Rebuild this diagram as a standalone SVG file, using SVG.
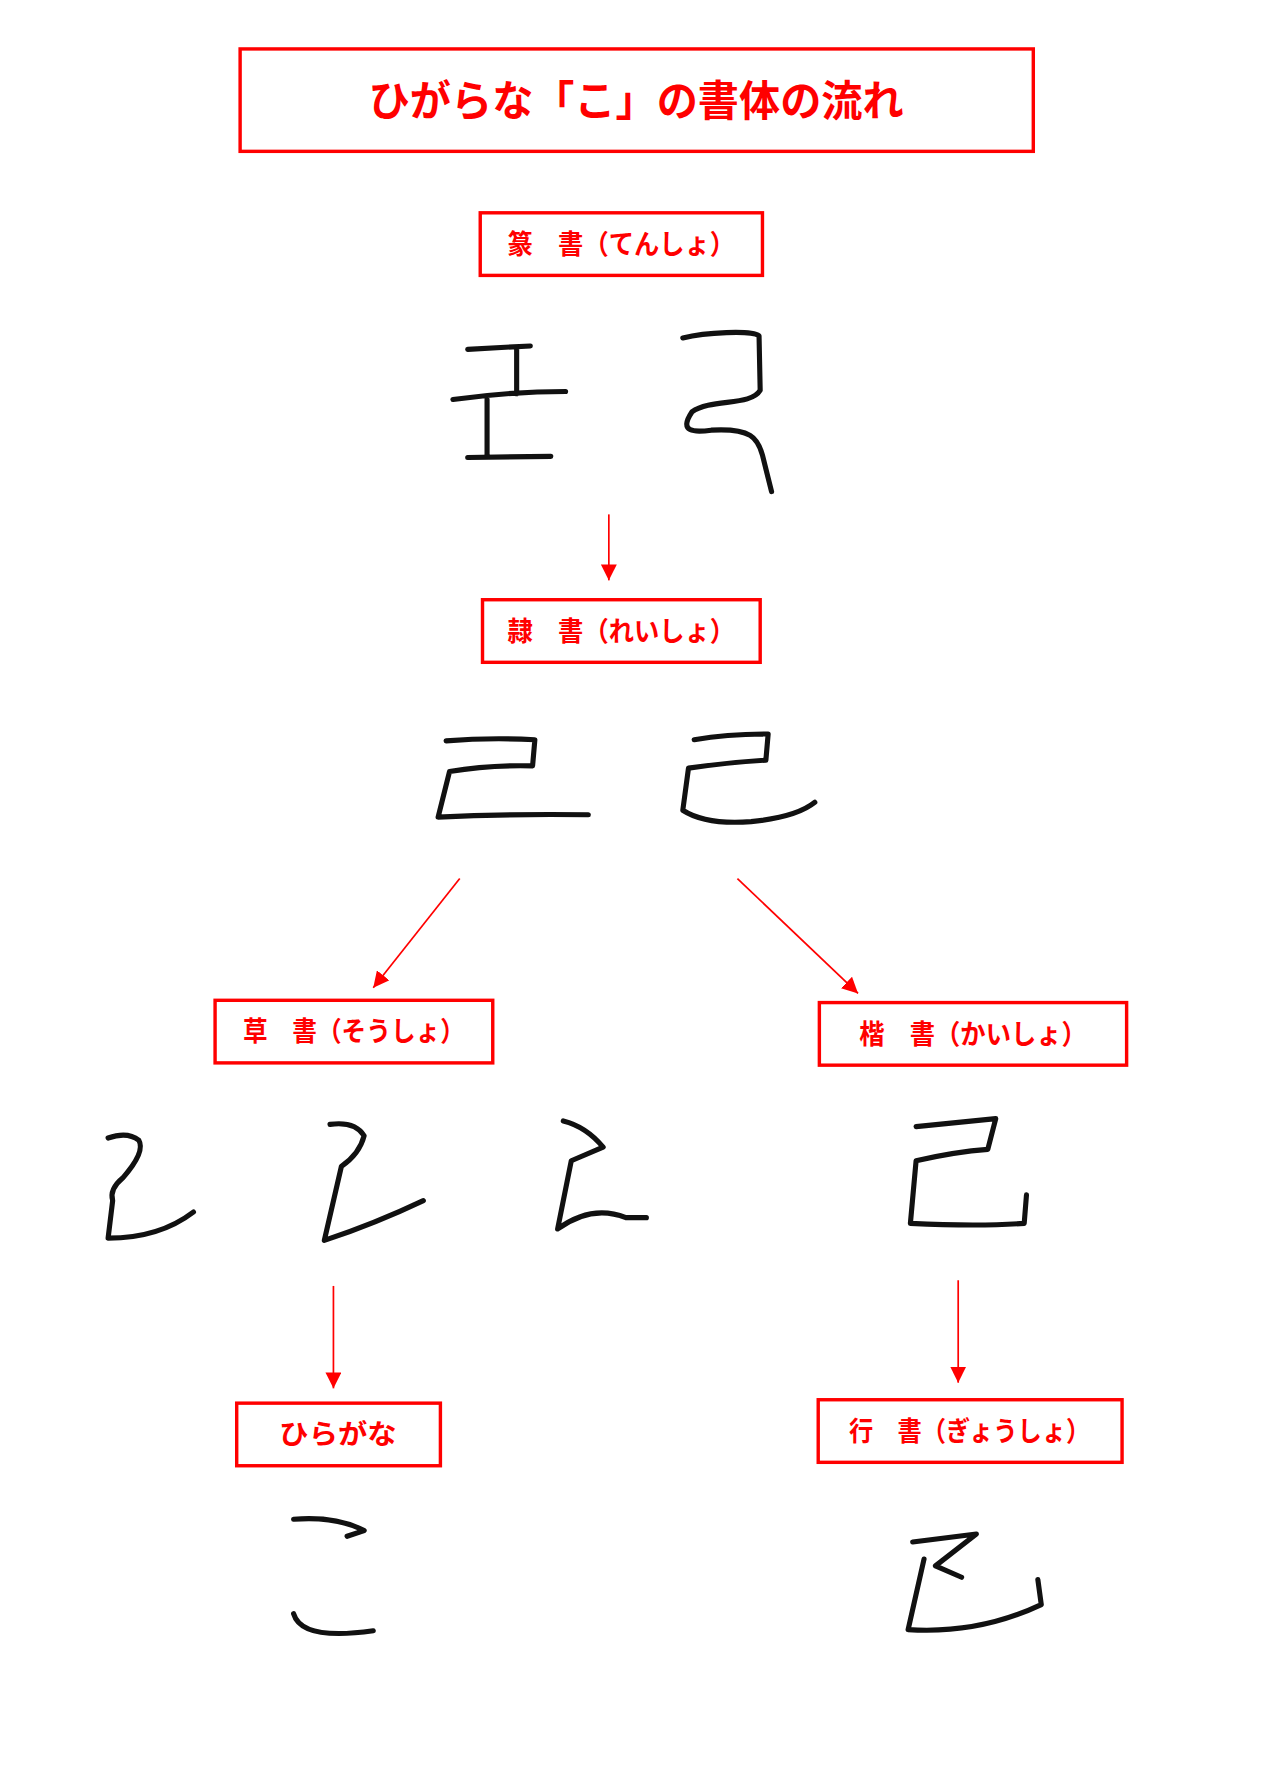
<svg xmlns="http://www.w3.org/2000/svg" width="1280" height="1787" viewBox="0 0 1280 1787">
<style>
.box{fill:none;stroke:#ff0000;stroke-width:3}
.lbl{font-family:"Noto Sans CJK JP",sans-serif;fill:#ff0000;font-size:24px;font-weight:bold;text-anchor:middle}
.ink{fill:none;stroke:#111;stroke-width:4.5;stroke-linecap:round;stroke-linejoin:round}
.con{stroke:#ff0000;stroke-width:1.5;fill:none}
</style>
<defs><marker id="ah" viewBox="0 0 10 10" refX="10" refY="5" markerWidth="14" markerHeight="14" markerUnits="userSpaceOnUse" orient="auto"><path d="M0,0L10,5L0,10z" fill="#ff0000"/></marker></defs>
<rect width="1280" height="1787" fill="#fff"/>
<g transform="scale(1.138)">
<g id="title"><rect class="box" x="211" y="43" width="697" height="90"/><text class="lbl" x="559" y="102" style="font-size:37px" textLength="470" lengthAdjust="spacingAndGlyphs">ひがらな「こ」の書体の流れ</text></g>
<g id="tensho"><rect class="box" x="422" y="187" width="248" height="55"/><text class="lbl" x="546" y="223" textLength="200" lengthAdjust="spacingAndGlyphs">篆　書（てんしょ）</text>
<path class="ink" d="M411,307 L466,304 M454,307 L454,346 M398,351 Q450,344 497,344 M428,351 L428,402 M411,402 L484,401"/>
<path class="ink" d="M600,297 C620,292 660,290 667,295 L668,343 C660,357 625,350 608,362 C596,380 610,380 625,378 C660,376 666,385 670,400 L678,432"/></g>
<g id="reisho"><rect class="box" x="424" y="527" width="244" height="55"/><text class="lbl" x="546" y="563" textLength="200" lengthAdjust="spacingAndGlyphs">隷　書（れいしょ）</text>
<path class="ink" d="M392,651 Q430,648 470,650 L468,673 Q430,672 395,678 L385,718 Q450,715 517,716"/>
<path class="ink" d="M610,650 Q640,645 675,645 L673,668 Q640,670 605,675 L600,712 Q620,725 660,722 Q700,718 716,705"/></g>
<g id="sousho"><rect class="box" x="189" y="879" width="244" height="55"/><text class="lbl" x="311" y="915" textLength="195" lengthAdjust="spacingAndGlyphs">草　書（そうしょ）</text>
<path class="ink" d="M95,1000 Q112,994 122,1002 Q128,1012 108,1035 Q96,1045 99,1055 L95,1088 Q140,1088 170,1065"/>
<path class="ink" d="M290,988 Q312,985 320,998 Q316,1014 300,1025 L285,1090 Q330,1075 372,1055"/>
<path class="ink" d="M495,985 Q515,990 530,1008 L502,1020 L490,1080 Q520,1058 550,1070 L568,1070"/></g>
<g id="kaisho"><rect class="box" x="720" y="881" width="270" height="55"/><text class="lbl" x="855" y="917" textLength="200" lengthAdjust="spacingAndGlyphs">楷　書（かいしょ）</text>
<path class="ink" d="M805,990 L875,983 L868,1010 Q840,1012 805,1020 L800,1075 Q860,1078 900,1075 L902,1050"/></g>
<g id="hiragana"><rect class="box" x="208" y="1233" width="179" height="55"/><text class="lbl" x="297" y="1269" textLength="103" lengthAdjust="spacingAndGlyphs">ひらがな</text>
<path class="ink" d="M258,1335 Q295,1332 320,1345 L305,1350 M258,1418 Q265,1442 328,1433"/></g>
<g id="gyosho"><rect class="box" x="719" y="1230" width="267" height="55"/><text class="lbl" x="852" y="1266" textLength="212" lengthAdjust="spacingAndGlyphs">行　書（ぎょうしょ）</text>
<path class="ink" d="M802,1355 L858,1348 L822,1376 L845,1386 M812,1370 L798,1432 Q860,1436 915,1410 L912,1388"/></g>
<g id="connectors">
<line class="con" x1="535" y1="452" x2="535" y2="510" marker-end="url(#ah)"/>
<line class="con" x1="404" y1="772" x2="328" y2="868" marker-end="url(#ah)"/>
<line class="con" x1="648" y1="772" x2="754" y2="873" marker-end="url(#ah)"/>
<line class="con" x1="293" y1="1130" x2="293" y2="1220" marker-end="url(#ah)"/>
<line class="con" x1="842" y1="1125" x2="842" y2="1215" marker-end="url(#ah)"/>
</g>
</g>
</svg>
